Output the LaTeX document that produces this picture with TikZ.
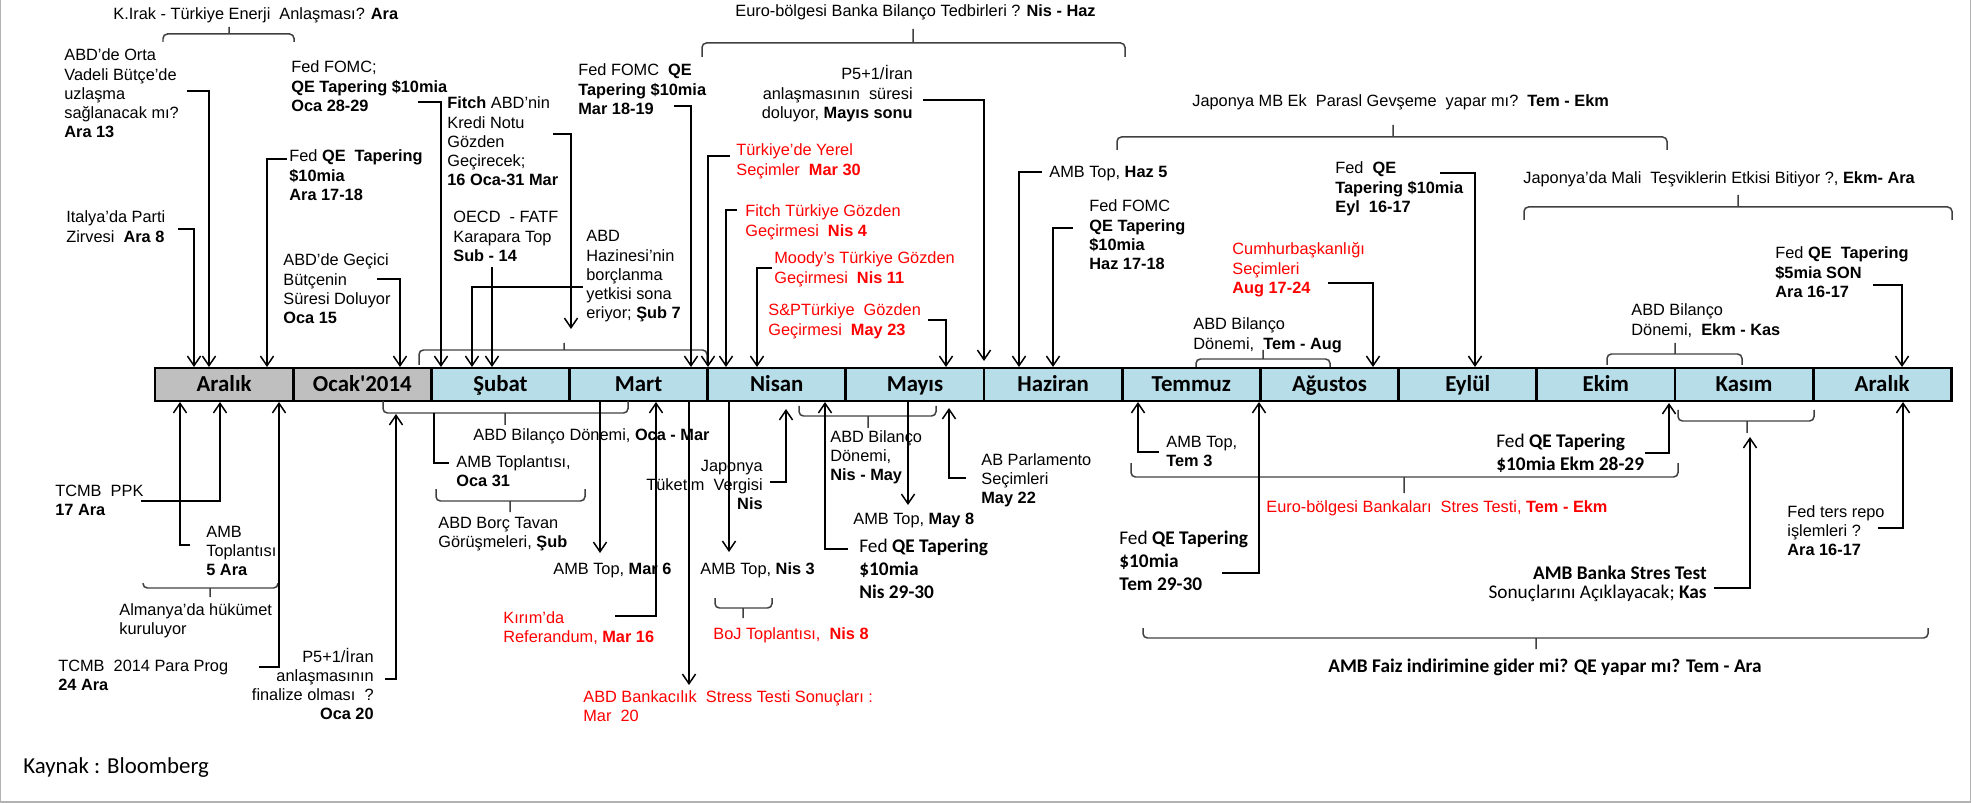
\documentclass[tikz,border=0pt]{standalone}
\usepackage{fontspec}
\setmainfont{Liberation Sans}
\newfontfamily\calfont{Carlito}
\usepackage{tikz}
\usetikzlibrary{arrows.meta, positioning}
\definecolor{monthgray}{RGB}{191,191,191}
\definecolor{monthblue}{RGB}{183,221,232}
\definecolor{bracegray}{RGB}{64,64,64}
% multi-line labels, baseline on the first line
\newcommand{\txtL}[1]{\begin{tabular}[t]{@{}l@{}}#1\end{tabular}}
\newcommand{\txtR}[1]{\begin{tabular}[t]{@{}r@{}}#1\end{tabular}}

\begin{document}
\begin{tikzpicture}[x=0.02cm, y=-0.02cm,
    month/.style={draw, line width=1.6pt, fill=monthblue, minimum width=2.764cm, minimum height=0.66cm, inner sep=0pt, outer sep=0pt, text height=10pt, text depth=1.5pt, font=\calfont\bfseries\fontsize{13}{15}\selectfont},
    lbl/.style={inner sep=0pt, anchor=base west, font=\fontsize{9.3}{10.9}\selectfont},
    lblr/.style={lbl, anchor=base east},
    clbl/.style={lbl, font=\calfont\fontsize{11}{13.3}\selectfont},
    hot/.style={text=red},
    arr/.style={line width=0.85pt, -{Straight Barb[length=5.5pt,width=7.5pt]}},
    lnk/.style={line width=0.85pt},
    brc/.style={line width=0.85pt, draw=bracegray, rounded corners=2.5pt}]
    \useasboundingbox (0,0) rectangle (1973,803);
    \draw[gray!60, line width=0.6pt] (0.5,0) -- (0.5,802) -- (1970,802) -- (1970,0);

    % Months
    \node[month, fill=monthgray] (m1) at (224.1,384.5) {Aralık};
    \node[month, fill=monthgray, right=0pt of m1] (m2) {Ocak'2014};
    \node[month, right=0pt of m2] (m3) {Şubat};
    \node[month, right=0pt of m3] (m4) {Mart};
    \node[month, right=0pt of m4] (m5) {Nisan};
    \node[month, right=0pt of m5] (m6) {Mayıs};
    \node[month, right=0pt of m6] (m7) {Haziran};
    \node[month, right=0pt of m7] (m8) {Temmuz};
    \node[month, right=0pt of m8] (m9) {Ağustos};
    \node[month, right=0pt of m9] (m10) {Eylül};
    \node[month, right=0pt of m10] (m11) {Ekim};
    \node[month, right=0pt of m11] (m12) {Kasım};
    \node[month, right=0pt of m12] (m13) {Aralık};

    % Arrow ends on the bar
    \coordinate (tItalya) at (194,367);
    \coordinate (tOrta) at (209,367);
    \coordinate (tAra17) at (267,367);
    \coordinate (tOca15) at (400,367);
    \coordinate (tOca28) at (441,367);
    \coordinate (tSub7) at (472,367);
    \coordinate (tSub14) at (492,367);
    \coordinate (tFitch) at (571,329);
    \coordinate (tMar18) at (691,367);
    \coordinate (tMar30) at (708,367);
    \coordinate (tNis4) at (726,367);
    \coordinate (tNis11) at (757,367);
    \coordinate (tMay23) at (946,367);
    \coordinate (tMay) at (984,361);
    \coordinate (tHaz5) at (1019,367);
    \coordinate (tHaz17) at (1053,367);
    \coordinate (tAug) at (1373,367);
    \coordinate (tEyl) at (1475,367);
    \coordinate (tAra16) at (1902,367);
    \coordinate (bAra5) at (180,402);
    \coordinate (bAra17) at (220,402);
    \coordinate (bAra24) at (279,402);
    \coordinate (bOca20) at (396,414);
    \coordinate (bOca31) at (434,413);
    \coordinate (bMar6) at (600,402);
    \coordinate (bMar16) at (656,402);
    \coordinate (bMar20) at (689,402);
    \coordinate (bNis3) at (729,402);
    \coordinate (bNis) at (786,409);
    \coordinate (bNis29) at (825,402);
    \coordinate (bMay8) at (908,402);
    \coordinate (bMay22) at (949,408);
    \coordinate (bTem3) at (1138,402);
    \coordinate (bTem29) at (1259,402);
    \coordinate (bEkm28) at (1669,403);
    \coordinate (bKas) at (1750,437);
    \coordinate (bAra16) at (1903,402);

    % Above the bar
    \node[lbl] (kirak) at (113,20) {K.Irak - Türkiye Enerji\ \ Anlaşması? \textbf{Ara}};
    \draw[brc] (163,42) -- (163,34) -- (294,34) -- (294,42) (229,34) -- (229,27);
    \node[lbl] (orta) at (64,61) {\txtL{ABD'de Orta\\Vadeli Bütçe'de\\uzlaşma\\sağlanacak mı?\\\textbf{Ara 13}}};
    \node[lbl] (italya) at (66,223) {\txtL{Italya'da Parti\\Zirvesi\ \ \textbf{Ara 8}}};
    \node[lbl] (fomcOca) at (291,73) {\txtL{Fed FOMC;\\\textbf{QE Tapering \$10mia}\\\textbf{Oca 28-29}}};
    \node[lbl] (fedAra) at (289,162) {\txtL{Fed \textbf{QE\ \ Tapering}\\\textbf{\$10mia}\\\textbf{Ara 17-18}}};
    \node[lbl] (gecici) at (283,266) {\txtL{ABD'de Geçici\\Bütçenin\\Süresi Doluyor\\\textbf{Oca 15}}};
    \node[lbl] (fitchAbd) at (447,109) {\txtL{\textbf{Fitch} ABD'nin\\Kredi Notu\\Gözden\\Geçirecek;\\\textbf{16 Oca-31 Mar}}};
    \node[lbl] (oecd) at (453,223) {\txtL{OECD\ \ - FATF\\Karapara Top\\\textbf{Sub - 14}}};
    \node[lbl] (hazine) at (586,242) {\txtL{ABD\\Hazinesi'nin\\borçlanma\\yetkisi sona\\eriyor; \textbf{Şub 7}}};
    \draw[brc] (419,365) -- (419,350) -- (707,350) -- (707,365) (564,350) -- (564,343);
    \node[lbl] (fomcMar) at (578,76) {\txtL{Fed FOMC\ \ \textbf{QE}\\\textbf{Tapering \$10mia}\\\textbf{Mar 18-19}}};
    \node[lbl] (euroTop) at (735,17) {Euro-bölgesi Banka Bilanço Tedbirleri ? \textbf{Nis - Haz}};
    \draw[brc] (702,57) -- (702,43) -- (1125,43) -- (1125,57) (913,43) -- (913,29);
    \node[lblr] (p5May) at (913,80) {\txtR{P5+1/İran\\anlaşmasının\ \ süresi\\doluyor, \textbf{Mayıs sonu}}};
    \node[lbl, hot] (yerel) at (736,156) {\txtL{Türkiye'de Yerel\\Seçimler\ \ \textbf{Mar 30}}};
    \node[lbl, hot] (fitchTr) at (745,217) {\txtL{Fitch Türkiye Gözden\\Geçirmesi\ \ \textbf{Nis 4}}};
    \node[lbl, hot] (moody) at (774,264) {\txtL{Moody's Türkiye Gözden\\Geçirmesi\ \ \textbf{Nis 11}}};
    \node[lbl, hot] (sp) at (768,316) {\txtL{S\&PTürkiye\ \ Gözden\\Geçirmesi\ \ \textbf{May 23}}};
    \node[lbl] (ambHaz) at (1049,178) {AMB Top, \textbf{Haz 5}};
    \node[lbl] (fomcHaz) at (1089,212) {\txtL{Fed FOMC\\\textbf{QE Tapering}\\\textbf{\$10mia}\\\textbf{Haz 17-18}}};
    \node[lbl, hot] (cumhur) at (1232,255) {\txtL{Cumhurbaşkanlığı\\Seçimleri\\\textbf{Aug 17-24}}};
    \node[lbl] (japTop) at (1192,107) {Japonya MB Ek\ \ Parasl Gevşeme\ \ yapar mı?\ \ \textbf{Tem - Ekm}};
    \draw[brc] (1117,150) -- (1117,137) -- (1667,137) -- (1667,150) (1393,137) -- (1393,125);
    \node[lbl] (fedEyl) at (1335,174) {\txtL{Fed\ \ \textbf{QE}\\\textbf{Tapering \$10mia}\\\textbf{Eyl\ \ 16-17}}};
    \node[lbl] (bilTem) at (1193,330) {\txtL{ABD Bilanço\\Dönemi,\ \ \textbf{Tem - Aug}}};
    \draw[brc] (1196,367) -- (1196,359) -- (1330,359) -- (1330,367) (1263,359) -- (1263,350);
    \node[lbl] (japMali) at (1523,184) {Japonya'da Mali\ \ Teşviklerin Etkisi Bitiyor ?, \textbf{Ekm- Ara}};
    \draw[brc] (1524,220) -- (1524,207) -- (1952,207) -- (1952,220) (1738,207) -- (1738,195);
    \node[lbl] (fed5) at (1775,259) {\txtL{Fed \textbf{QE\ \ Tapering}\\\textbf{\$5mia SON}\\\textbf{Ara 16-17}}};
    \node[lbl] (bilEkm) at (1631,316) {\txtL{ABD Bilanço\\Dönemi,\ \ \textbf{Ekm - Kas}}};
    \draw[brc] (1607,365) -- (1607,354) -- (1742,354) -- (1742,365) (1675,354) -- (1675,343);

    \draw[arr] ([shift={(123,30)}]orta.base west) -| (tOrta);
    \draw[arr] ([shift={(112,6)}]italya.base west) -| (tItalya);
    \draw[arr] ([shift={(127,29)}]fomcOca.base west) -| (tOca28);
    \draw[arr] ([shift={(-2,-3)}]fedAra.base west) -| (tAra17);
    \draw[arr] ([shift={(94,13)}]gecici.base west) -| (tOca15);
    \draw[arr] ([shift={(106,25)}]fitchAbd.base west) -| (tFitch);
    \draw[arr] ([shift={(39,44)}]oecd.base west) -- (tSub14);
    \draw[arr] ([shift={(-3,45)}]hazine.base west) -| (tSub7);
    \draw[arr] ([shift={(96,30)}]fomcMar.base west) -| (tMar18);
    \draw[arr] ([shift={(10,20)}]p5May.base east) -| (tMay);
    \draw[arr] ([shift={(-6,0)}]yerel.base west) -| (tMar30);
    \draw[arr] ([shift={(-8,-7)}]fitchTr.base west) -| (tNis4);
    \draw[arr] ([shift={(-2,4)}]moody.base west) -| (tNis11);
    \draw[arr] ([shift={(160,4)}]sp.base west) -| (tMay23);
    \draw[arr] ([shift={(-7,-6)}]ambHaz.base west) -| (tHaz5);
    \draw[arr] ([shift={(-16,16)}]fomcHaz.base west) -| (tHaz17);
    \draw[arr] ([shift={(96,28)}]cumhur.base west) -| (tAug);
    \draw[arr] ([shift={(105,-1)}]fedEyl.base west) -| (tEyl);
    \draw[arr] ([shift={(98,26)}]fed5.base west) -| (tAra16);

    % Below the bar
    \node[lbl] (ppk) at (55,496) {\txtL{TCMB\ \ PPK\\\textbf{17 Ara}}};
    \node[lbl] (amb5) at (206,537) {\txtL{AMB\\Toplantısı\\\textbf{5 Ara}}};
    \draw[brc] (143,583) -- (143,588) -- (278,588) -- (278,583) (210,588) -- (210,597);
    \node[lbl] (almanya) at (119,615) {\txtL{Almanya'da hükümet\\kuruluyor}};
    \node[lbl] (para) at (58,671) {\txtL{TCMB\ \ 2014 Para Prog\\\textbf{24 Ara}}};
    \node[lblr] (p5Oca) at (374,662) {\txtR{P5+1/İran\\anlaşmasının\\finalize olması\ \ ?\\\textbf{Oca 20}}};
    \draw[brc] (383,401) -- (383,413) -- (628,413) -- (628,401) (505,413) -- (505,425);
    \node[lbl] (bilOca) at (473,440) {ABD Bilanço Dönemi, \textbf{Oca - Mar}};
    \node[lbl] (ambOca) at (456,467) {\txtL{AMB Toplantısı,\\\textbf{Oca 31}}};
    \draw[brc] (436,489) -- (436,501) -- (585,501) -- (585,489) (510,501) -- (510,512);
    \node[lbl] (borc) at (438,528) {\txtL{ABD Borç Tavan\\Görüşmeleri, \textbf{Şub}}};
    \node[lbl] (ambMar) at (553,574) {AMB Top, \textbf{Mar 6}};
    \node[lbl, hot] (kirim) at (503,623) {\txtL{Kırım'da\\Referandum, \textbf{Mar 16}}};
    \node[lbl, hot] (stress) at (583,702) {\txtL{ABD Bankacılık\ \ Stress Testi Sonuçları :\\Mar\ \ 20}};
    \node[lblr] (japVergi) at (763,471) {\txtR{Japonya\\Tüketim\ \ Vergisi\\\textbf{Nis}}};
    \node[lbl] (ambNis) at (700,574) {AMB Top, \textbf{Nis 3}};
    \draw[brc] (715,598) -- (715,608) -- (772,608) -- (772,598) (743,608) -- (743,618);
    \node[lbl, hot] (boj) at (713,639) {BoJ Toplantısı,\ \ \textbf{Nis 8}};
    \draw[brc] (799,406) -- (799,416) -- (936,416) -- (936,406) (868,416) -- (868,428);
    \node[lbl] (bilNis) at (830,442) {\txtL{ABD Bilanço\\Dönemi,\\\textbf{Nis - May}}};
    \node[lbl] (ambMay) at (853,524) {AMB Top, \textbf{May 8}};
    \node[clbl] (fedNis) at (859,552) {\txtL{Fed \textbf{QE Tapering}\\\textbf{\$10mia}\\\textbf{Nis 29-30}}};
    \node[lbl] (abParl) at (981,465) {\txtL{AB Parlamento\\Seçimleri\\\textbf{May 22}}};
    \node[lbl] (ambTem) at (1166,447) {\txtL{AMB Top,\\\textbf{Tem 3}}};
    \draw[brc] (1131,463) -- (1131,477) -- (1678,477) -- (1678,463) (1404,477) -- (1404,493);
    \node[lbl, hot] (euroStres) at (1266,512) {Euro-bölgesi Bankaları\ \ Stres Testi, \textbf{Tem - Ekm}};
    \node[clbl] (fedTem) at (1119,544) {\txtL{Fed \textbf{QE Tapering}\\\textbf{\$10mia}\\\textbf{Tem 29-30}}};
    \draw[brc] (1143,628) -- (1143,638) -- (1928,638) -- (1928,628) (1536,638) -- (1536,649);
    \node[clbl, font=\calfont\bfseries\fontsize{11}{13.3}\selectfont] (faiz) at (1328,672) {AMB Faiz indirimine gider mi? QE yapar mı? Tem - Ara};
    \node[clbl] (fedEkm) at (1496,447) {\txtL{Fed \textbf{QE Tapering}\\\textbf{\$10mia Ekm 28-29}}};
    \draw[brc] (1678,410) -- (1678,421) -- (1814,421) -- (1814,410) (1747,421) -- (1747,433);
    \node[lblr, font=\calfont\fontsize{11}{10.9}\selectfont] (ambBanka) at (1707,579) {\txtR{\textbf{AMB Banka Stres Test}\\Sonuçlarını Açıklayacak; \textbf{Kas}}};
    \node[lbl] (repo) at (1787,517) {\txtL{Fed ters repo\\işlemleri ?\\\textbf{Ara 16-17}}};

    \draw[arr] ([shift={(-16,8)}]amb5.base west) -| (bAra5);
    \draw[arr] ([shift={(86,5)}]ppk.base west) -| (bAra17);
    \draw[arr] ([shift={(201,-4)}]para.base west) -| (bAra24);
    \draw[arr] ([shift={(11,17)}]p5Oca.base east) -| (bOca20);
    \draw[lnk] ([shift={(-7,-4)}]ambOca.base west) -| (bOca31);
    \draw[arr] (bMar6) -- ([shift={(47,-21)}]ambMar.base west);
    \draw[arr] ([shift={(112,-7)}]kirim.base west) -| (bMar16);
    \draw[arr] (bMar20) -- ([shift={(106,-17)}]stress.base west);
    \draw[arr] ([shift={(7,11)}]japVergi.base east) -| (bNis);
    \draw[arr] (bNis3) -- ([shift={(29,-22)}]ambNis.base west);
    \draw[arr] ([shift={(-11,-3)}]fedNis.base west) -| (bNis29);
    \draw[arr] (bMay8) -- ([shift={(55,-19)}]ambMay.base west);
    \draw[arr] ([shift={(-15,13)}]abParl.base west) -| (bMay22);
    \draw[arr] ([shift={(-7,5)}]ambTem.base west) -| (bTem3);
    \draw[arr] ([shift={(103,29)}]fedTem.base west) -| (bTem29);
    \draw[arr] ([shift={(149,6)}]fedEkm.base west) -| (bEkm28);
    \draw[arr] ([shift={(7,9)}]ambBanka.base east) -| (bKas);
    \draw[arr] ([shift={(91,11)}]repo.base west) -| (bAra16);

    % Source
    \node[lbl, font=\calfont\fontsize{13}{15}\selectfont] (kaynak) at (23,773) {Kaynak : Bloomberg};
\end{tikzpicture}
\end{document}
